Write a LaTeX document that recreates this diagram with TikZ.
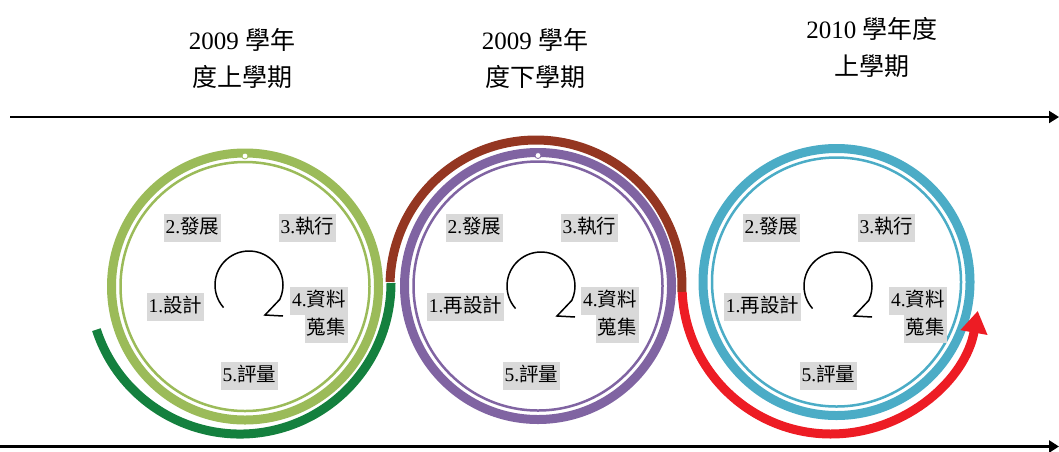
\documentclass[tikz,border=0pt]{standalone}
\usepackage{fontspec}
\setmainfont{Liberation Serif}
\newfontfamily\cjk{Noto Sans CJK TC}
\newcommand\zhtxt[1]{{\cjk #1}}
\usetikzlibrary{arrows.meta}
\definecolor{lgreen}{HTML}{9BBB59}
\definecolor{dgreen}{RGB}{20,128,62}
\definecolor{brownc}{RGB}{148,54,33}
\definecolor{purp}{HTML}{8064A2}
\definecolor{cyanc}{HTML}{4BACC6}
\definecolor{redc}{RGB}{237,28,36}
\definecolor{lblgray}{HTML}{D9D9D9}
\begin{document}
\begin{tikzpicture}[x=1pt,y=-1pt,
  lbl/.style={fill=lblgray, font=\fontsize{19.5}{22}\selectfont, inner xsep=2pt, inner ysep=3.5pt, text height=16pt, text depth=5pt},
  ttl/.style={align=center, font=\fontsize{25}{37}\selectfont, inner sep=0pt},
  thickring/.style={line width=9pt},
  thinring/.style={line width=2.5pt},
  band/.style={line width=9pt},
  notch/.style={circle, draw=#1, fill=white, line width=0.8pt, minimum size=6pt, inner sep=0pt},
  loop/.style={line width=1.5pt, line join=miter},
  axis/.style={-{Triangle[length=10pt,width=12pt]}}
]
\useasboundingbox (0,0) rectangle (1059,451);

% axes
\coordinate (t0) at (10,117);
\coordinate (t1) at (1059,117);
\coordinate (b0) at (0,446.5);
\coordinate (b1) at (1059,446.5);
\draw[axis, line width=2pt] (t0) -- (t1);
\draw[axis, line width=2.5pt] (b0) -- (b1);

% titles
\node[ttl] (T1) at (242,58) {2009 \zhtxt{學年}\\\zhtxt{度上學期}};
\node[ttl] (T2) at (535,58) {2009 \zhtxt{學年}\\\zhtxt{度下學期}};
\node[ttl] (T3) at (872,47) {2010 \zhtxt{學年度}\\\zhtxt{上學期}};

% circle 1
\coordinate (c1) at (245,286.5);
\draw[lgreen, thickring] (c1) circle[radius=133.5pt];
\draw[lgreen, thinring] (c1) circle[radius=124.5pt];
\node[notch=lgreen] (n1) at (245,156) {};
% circle 2
\coordinate (c2) at (538,286);
\draw[purp, thickring] (c2) circle[radius=133.5pt];
\draw[purp, thinring] (c2) circle[radius=124.5pt];
\node[notch=purp] (n2) at (538,155.5) {};
% circle 3
\coordinate (c3) at (836.5,282);
\draw[cyanc, thickring] (c3) circle[radius=133.5pt];
\draw[cyanc, thinring] (c3) circle[radius=124.5pt];

% outer arcs
\coordinate (a1) at (240,283);
\coordinate (a2) at (536,286);
\coordinate (a3) at (831,285);
\draw[dgreen, band] (a1) ++(198:151pt) arc[start angle=198, end angle=360, radius=151pt];
\draw[brownc, band] (a2) ++(178.4:146pt) arc[start angle=178.4, end angle=-2.4, radius=146pt];
\draw[redc, band, -{Triangle[length=22pt,width=26pt]}] (a3) ++(182.7:149pt) arc[start angle=182.7, end angle=350, radius=149pt];

% loop arrows
\foreach \i/\x/\y in {1/249/285, 2/541/286, 3/838/286}{
  \coordinate (l\i) at (\x,\y);
  \draw[loop] (l\i) ++(221.5:34pt) arc[start angle=221.5, end angle=-25, radius=34pt]
     -- ([shift={(16,30)}]l\i) -- ([shift={(34,31)}]l\i);
}

% labels circle 1
\node[lbl] (p1a) at (192.5,228) {2.\zhtxt{發展}};
\node[lbl] (p1b) at (307.5,228) {3.\zhtxt{執行}};
\node[lbl] (p1c) at (175.5,307) {1.\zhtxt{設計}};
\node[lbl, anchor=east] (p1d) at (348,301) {4.\zhtxt{資料}};
\node[lbl, anchor=east] (p1e) at (348,328.5) {\zhtxt{蒐集}};
\node[lbl] (p1f) at (249.5,376) {5.\zhtxt{評量}};
% labels circle 2
\node[lbl] (p2a) at (474.5,228) {2.\zhtxt{發展}};
\node[lbl] (p2b) at (589.5,228) {3.\zhtxt{執行}};
\node[lbl] (p2c) at (465.5,307) {1.\zhtxt{再設計}};
\node[lbl, anchor=east] (p2d) at (639,301) {4.\zhtxt{資料}};
\node[lbl, anchor=east] (p2e) at (639,328.5) {\zhtxt{蒐集}};
\node[lbl] (p2f) at (531.5,376) {5.\zhtxt{評量}};
% labels circle 3
\node[lbl] (p3a) at (771.5,228) {2.\zhtxt{發展}};
\node[lbl] (p3b) at (886.5,228) {3.\zhtxt{執行}};
\node[lbl] (p3c) at (762.5,307) {1.\zhtxt{再設計}};
\node[lbl, anchor=east] (p3d) at (947,301) {4.\zhtxt{資料}};
\node[lbl, anchor=east] (p3e) at (947,328.5) {\zhtxt{蒐集}};
\node[lbl] (p3f) at (828.5,376) {5.\zhtxt{評量}};
\end{tikzpicture}
\end{document}
